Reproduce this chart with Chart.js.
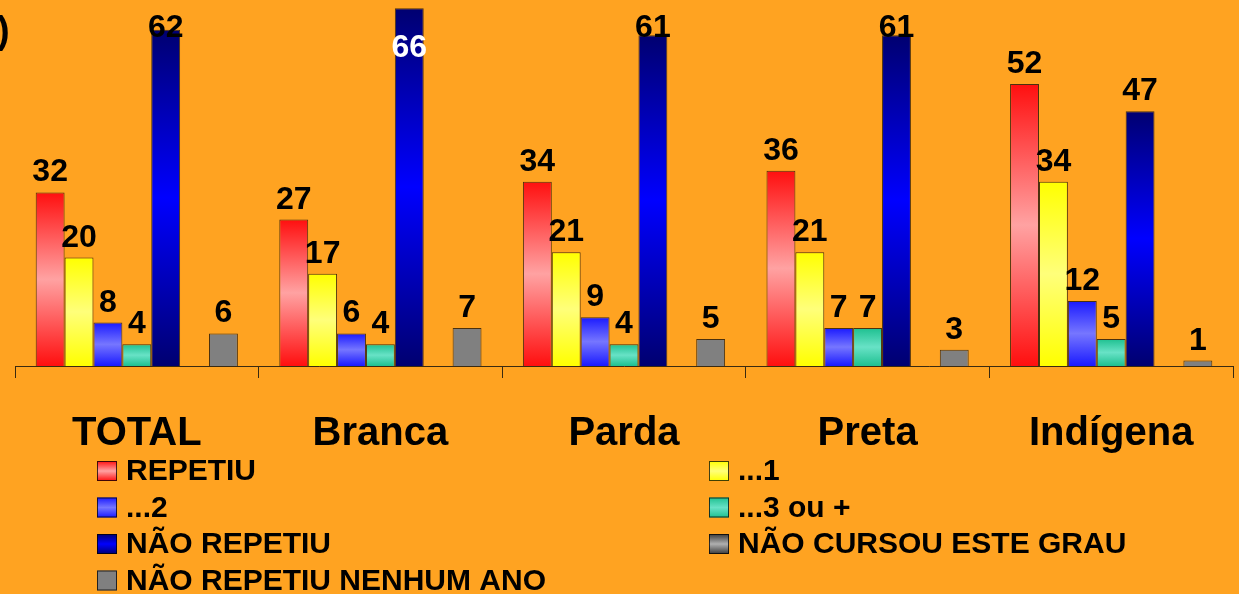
<!DOCTYPE html>
<html>
<head>
<meta charset="utf-8">
<script src="https://cdn.jsdelivr.net/npm/chart.js@4.4.1/dist/chart.umd.min.js"></script>
<style>
  html, body { margin: 0; padding: 0; background: #FFA321; }
  canvas { display: block; }
</style>
</head>
<body>
<canvas id="chart" width="1239" height="594"></canvas>
<script>
// DATA
const categories = ["TOTAL", "Branca", "Parda", "Preta", "Indígena"];
const seriesNames = ["REPETIU", "...1", "...2", "...3 ou +", "NÃO REPETIU", "NÃO CURSOU ESTE GRAU", "NÃO REPETIU NENHUM ANO"];
const repetiu = [32, 27, 34, 36, 52];
const rep1 = [20, 17, 21, 21, 34];
const rep2 = [8, 6, 9, 7, 12];
const rep3 = [4, 4, 4, 7, 5];
const naoRepetiu = [62, 66, 61, 61, 47];
const naoCursou = [null, null, null, null, null];
const nenhumAno = [6, 7, 5, 3, 1];

// STYLE (edge colour / middle colour of the vertical gradient)
const palette = [
  ["#FF0F0F", "#FFA2A2"],
  ["#FFFF00", "#FFFF7A"],
  ["#1A1AFF", "#7676FF"],
  ["#1EC090", "#68E2C6"],
  ["#000070", "#0000FF"],
  ["#3A3A3A", "#B0B0B0"],
  ["#808080", "#808080"],
];
const FONT = "'Liberation Sans', Arial, sans-serif";

function makeGrad(c, top, bottom, edge, mid) {
  const g = c.createLinearGradient(0, top, 0, bottom);
  g.addColorStop(0, edge);
  g.addColorStop(0.5, mid);
  g.addColorStop(1, edge);
  return g;
}

// per-bar vertical gradient
function barFill(i) {
  return (ctx) => {
    const chart = ctx.chart;
    const [edge, mid] = palette[i];
    if (!chart.chartArea || ctx.type !== "data" || ctx.raw == null) return edge;
    const y = chart.scales.y;
    return makeGrad(chart.ctx, y.getPixelForValue(ctx.raw), y.getPixelForValue(0), edge, mid);
  };
}

const allSeries = [repetiu, rep1, rep2, rep3, naoRepetiu, naoCursou, nenhumAno];

// value labels above the bars
const valueLabels = {
  id: "valueLabels",
  afterDatasetsDraw(chart) {
    const c = chart.ctx;
    c.save();
    c.font = "bold 32px " + FONT;
    c.textAlign = "center";
    c.textBaseline = "alphabetic";
    chart.data.datasets.forEach((ds, i) => {
      chart.getDatasetMeta(i).data.forEach((el, j) => {
        const v = ds.data[j];
        if (v == null) return;
        let yb = el.y - 11;
        if (yb < 0) {
          // no room above: put it inside the bar
          c.fillStyle = "#FFFFFF";
          yb = el.y + 49;
        } else {
          c.fillStyle = "#000000";
          yb = Math.max(yb, 37);
        }
        c.fillText(String(v), el.x, yb);
      });
    });
    c.restore();
  },
};

// two column legend + cut off title bracket
const legend2col = {
  id: "legend2col",
  afterDraw(chart) {
    const c = chart.ctx;
    c.save();
    c.font = "bold 38px " + FONT;
    c.fillStyle = "#000";
    c.textBaseline = "middle";
    c.textAlign = "left";
    c.fillText(")", -3, 33);

    const colX = [97, 709];
    const rowY = [471, 507.5, 544, 580.5];
    c.font = "bold 30px " + FONT;
    chart.data.datasets.forEach((ds, i) => {
      const x = colX[i % 2];
      const y = rowY[Math.floor(i / 2)];
      const [edge, mid] = palette[i];
      c.fillStyle = makeGrad(c, y - 10, y + 10, edge, mid);
      c.fillRect(x, y - 10, 20, 20);
      c.strokeStyle = "rgba(0,0,0,0.75)";
      c.lineWidth = 1;
      c.strokeRect(x + 0.5, y - 9.5, 19, 19);
      c.fillStyle = "#000";
      c.fillText(ds.label, x + 29, y + 1);
    });
    c.restore();
  },
};

const data = {
  labels: categories,
  datasets: allSeries.map((vals, i) => ({
    label: seriesNames[i],
    data: vals,
    backgroundColor: barFill(i),
    borderColor: "rgba(30,20,10,0.8)",
    borderWidth: 1,
    categoryPercentage: 0.83,
    barPercentage: 1.0,
  })),
};

const config = {
  type: "bar",
  data: data,
  options: {
    responsive: false,
    animation: false,
    layout: {
      padding: { top: 0, left: 15, right: 6, bottom: 104 },
    },
    scales: {
      x: {
        grid: {
          drawOnChartArea: false,
          drawTicks: true,
          tickLength: 12,
          color: "#3a2a10",
        },
        border: { display: true, color: "#3a2a10", width: 1 },
        ticks: {
          color: "#000",
          padding: 32,
          font: { family: FONT, size: 40, weight: "bold" },
        },
      },
      y: {
        display: false,
        min: 0,
        max: 67.5,
      },
    },
    plugins: {
      legend: { display: false },
      tooltip: { enabled: false },
    },
  },
  plugins: [valueLabels, legend2col],
};

// RENDER INIT
const chart = new Chart(document.getElementById("chart"), config);
</script>
</body>
</html>
